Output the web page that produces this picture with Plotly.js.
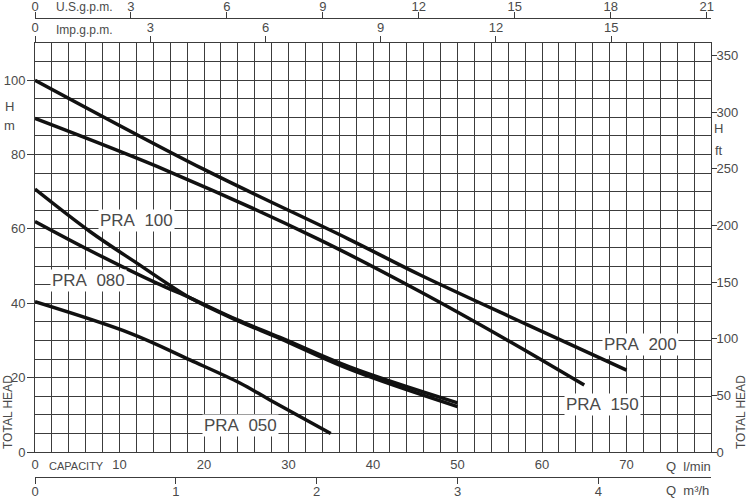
<!DOCTYPE html>
<html>
<head>
<meta charset="utf-8">
<script src="https://cdn.plot.ly/plotly-3.0.1.min.js"></script>
<style>
  html, body { margin: 0; padding: 0; background: #fff; }
  #chart { width: 750px; height: 499px; }
</style>
</head>
<body>
<div id="chart"></div>
<script>
// curve data, Q in l/min, H in m
const flow200 = [0, 20, 37, 45.6, 58.3, 70];
const head200 = [100, 76, 57.4, 47.6, 34.2, 22];
const flow150 = [0, 16, 33.4, 45.6, 55.5, 65];
const head150 = [89.7, 75.3, 57.4, 43.1, 30.6, 18];
const flow100 = [0, 6.5, 12.05, 18.4, 23.9, 29, 37.3, 50];
const head100 = [70.7, 59.3, 50.8, 41.4, 35.4, 30.5, 22.2, 12.2];
const flow080 = [0, 6.5, 14.4, 18.4, 23.9, 29, 37.3, 50];
const head080 = [62, 54.2, 45.4, 41.4, 35.6, 30.8, 22.8, 13.2];
const flow050 = [0, 11.3, 18.4, 24.3, 27.8, 35];
const head050 = [40.4, 31.9, 24.7, 18.5, 14, 5];

const modelNames = ['PRA 200', 'PRA 150', 'PRA 100', 'PRA 080', 'PRA 050'];

// tick labels
const lminTicks = [0, 10, 20, 30, 40, 50, 60, 70];
const m3hTicks = [0, 1, 2, 3, 4];
const usTicks = [0, 3, 6, 9, 12, 15, 18, 21];
const impTicks = [0, 3, 6, 9, 12, 15];
const mTicks = [0, 20, 40, 60, 80, 100];
const ftTicks = [0, 50, 100, 150, 200, 250, 300, 350];

// unit conversions
const QMAX = 80, HMAX = 110;
const L_PER_USG = 3.78541, L_PER_IMPG = 4.54609, LMIN_PER_M3H = 1000 / 60, M_PER_FT = 0.3048;

const W = 750, H = 499;
const px = v => v / W;
const py = v => (H - v) / H;
const dom = [px(35), px(711)];

const txt = '#4a4a4a';
const grid = '#3c3c3c';
const font = { family: 'Liberation Sans, Arial, sans-serif', size: 13, color: txt };

const curves = [
  [flow200, head200], [flow150, head150], [flow100, head100], [flow080, head080], [flow050, head050]
];
const traces = curves.map((c, i) => ({
  x: c[0], y: c[1], name: modelNames[i], type: 'scatter', mode: 'lines',
  line: { color: '#111', width: 3.5, shape: 'spline', smoothing: 1 },
  hoverinfo: 'skip', showlegend: false
}));
// dummy traces so the extra axes are drawn
traces.push({ x: [0], y: [0], yaxis: 'y2', mode: 'none', showlegend: false, hoverinfo: 'skip' });
['x2', 'x3', 'x4'].forEach(a => traces.push({ x: [0], y: [0], xaxis: a, mode: 'none', showlegend: false, hoverinfo: 'skip' }));

const axLine = { showline: true, linecolor: grid, linewidth: 1, zeroline: false, showgrid: false, tickfont: font, tickcolor: grid, ticklen: 6 };

const layout = {
  width: W, height: H,
  margin: { l: 0, r: 0, t: 0, b: 0 },
  paper_bgcolor: '#fff', plot_bgcolor: '#fff',
  font: font,
  xaxis: Object.assign({}, axLine, {
    domain: dom, range: [0, QMAX], tickmode: 'array', tickvals: lminTicks,
    ticks: '', showgrid: true, gridcolor: grid, gridwidth: 1, mirror: true,
    minor: { tickmode: 'linear', tick0: 0, dtick: 2, showgrid: true, gridcolor: grid, gridwidth: 1, ticks: '' }
  }),
  yaxis: Object.assign({}, axLine, {
    domain: [py(452), py(43)], range: [0, HMAX], tickmode: 'array', tickvals: mTicks,
    ticks: 'outside', ticklen: 7, ticklabelstandoff: -1,
    showgrid: true, gridcolor: grid, gridwidth: 1, mirror: true,
    minor: { tickmode: 'linear', tick0: 0, dtick: 5, showgrid: true, gridcolor: grid, gridwidth: 1, ticks: '' }
  }),
  yaxis2: Object.assign({}, axLine, {
    overlaying: 'y', side: 'right', anchor: 'x', range: [0, HMAX / M_PER_FT],
    tickmode: 'array', tickvals: ftTicks, ticks: 'outside', ticklen: 5, ticklabelstandoff: -3, showline: false
  }),
  xaxis2: Object.assign({}, axLine, {
    overlaying: 'x', domain: dom, anchor: 'free', position: py(477), side: 'bottom',
    range: [0, QMAX / LMIN_PER_M3H], tickmode: 'array', tickvals: m3hTicks, ticks: 'outside',
    ticklabelstandoff: -4
  }),
  xaxis3: Object.assign({}, axLine, {
    overlaying: 'x', domain: dom, anchor: 'free', position: py(18), side: 'top',
    range: [0, QMAX / L_PER_USG], tickmode: 'array', tickvals: usTicks, ticks: 'outside',
    ticklabelstandoff: -4
  }),
  xaxis4: Object.assign({}, axLine, {
    overlaying: 'x', domain: dom, anchor: 'y', side: 'top', showline: false,
    range: [0, QMAX / L_PER_IMPG], tickmode: 'array', tickvals: impTicks, ticks: 'outside',
    ticklabelstandoff: -1
  }),
  annotations: []
};

// curve labels (white boxes cut the grid)
const labelPos = [[71.7, 28.8], [67.2, 12.9], [12.0, 62.2], [6.3, 46], [24.3, 7]];
modelNames.forEach((n, i) => layout.annotations.push({
  x: labelPos[i][0], y: labelPos[i][1], xref: 'x', yref: 'y', text: n.replace(' ', '&nbsp;&nbsp;'),
  showarrow: false, bgcolor: '#fff', borderpad: 1,
  font: { family: font.family, size: 17, color: txt }
}));

function paperText(t, x, y, opts) {
  layout.annotations.push(Object.assign({
    text: t, x: px(x), y: py(y), xref: 'paper', yref: 'paper', showarrow: false,
    font: font, xanchor: 'left', yanchor: 'middle'
  }, opts || {}));
}
const small = Object.assign({}, font, { size: 12 });
paperText('U.S.g.p.m.', 54, 7, { font: small });
paperText('Imp.g.p.m.', 54, 30, { font: small });
paperText('CAPACITY', 47, 466, { font: Object.assign({}, font, { size: 11 }) });
paperText('Q&nbsp;&nbsp;l/min', 664, 466);
paperText('Q&nbsp;&nbsp;m³/h', 664, 490);
paperText('H', 3, 106);
paperText('m', 2, 125);
paperText('H', 712, 128);
paperText('ft', 713, 151);
paperText('TOTAL HEAD', 8, 412, { textangle: -90, xanchor: 'center', font: small });
paperText('TOTAL HEAD', 741, 412, { textangle: -90, xanchor: 'center', font: small });

Plotly.newPlot('chart', traces, layout, { staticPlot: true, displayModeBar: false });
</script>
</body>
</html>
